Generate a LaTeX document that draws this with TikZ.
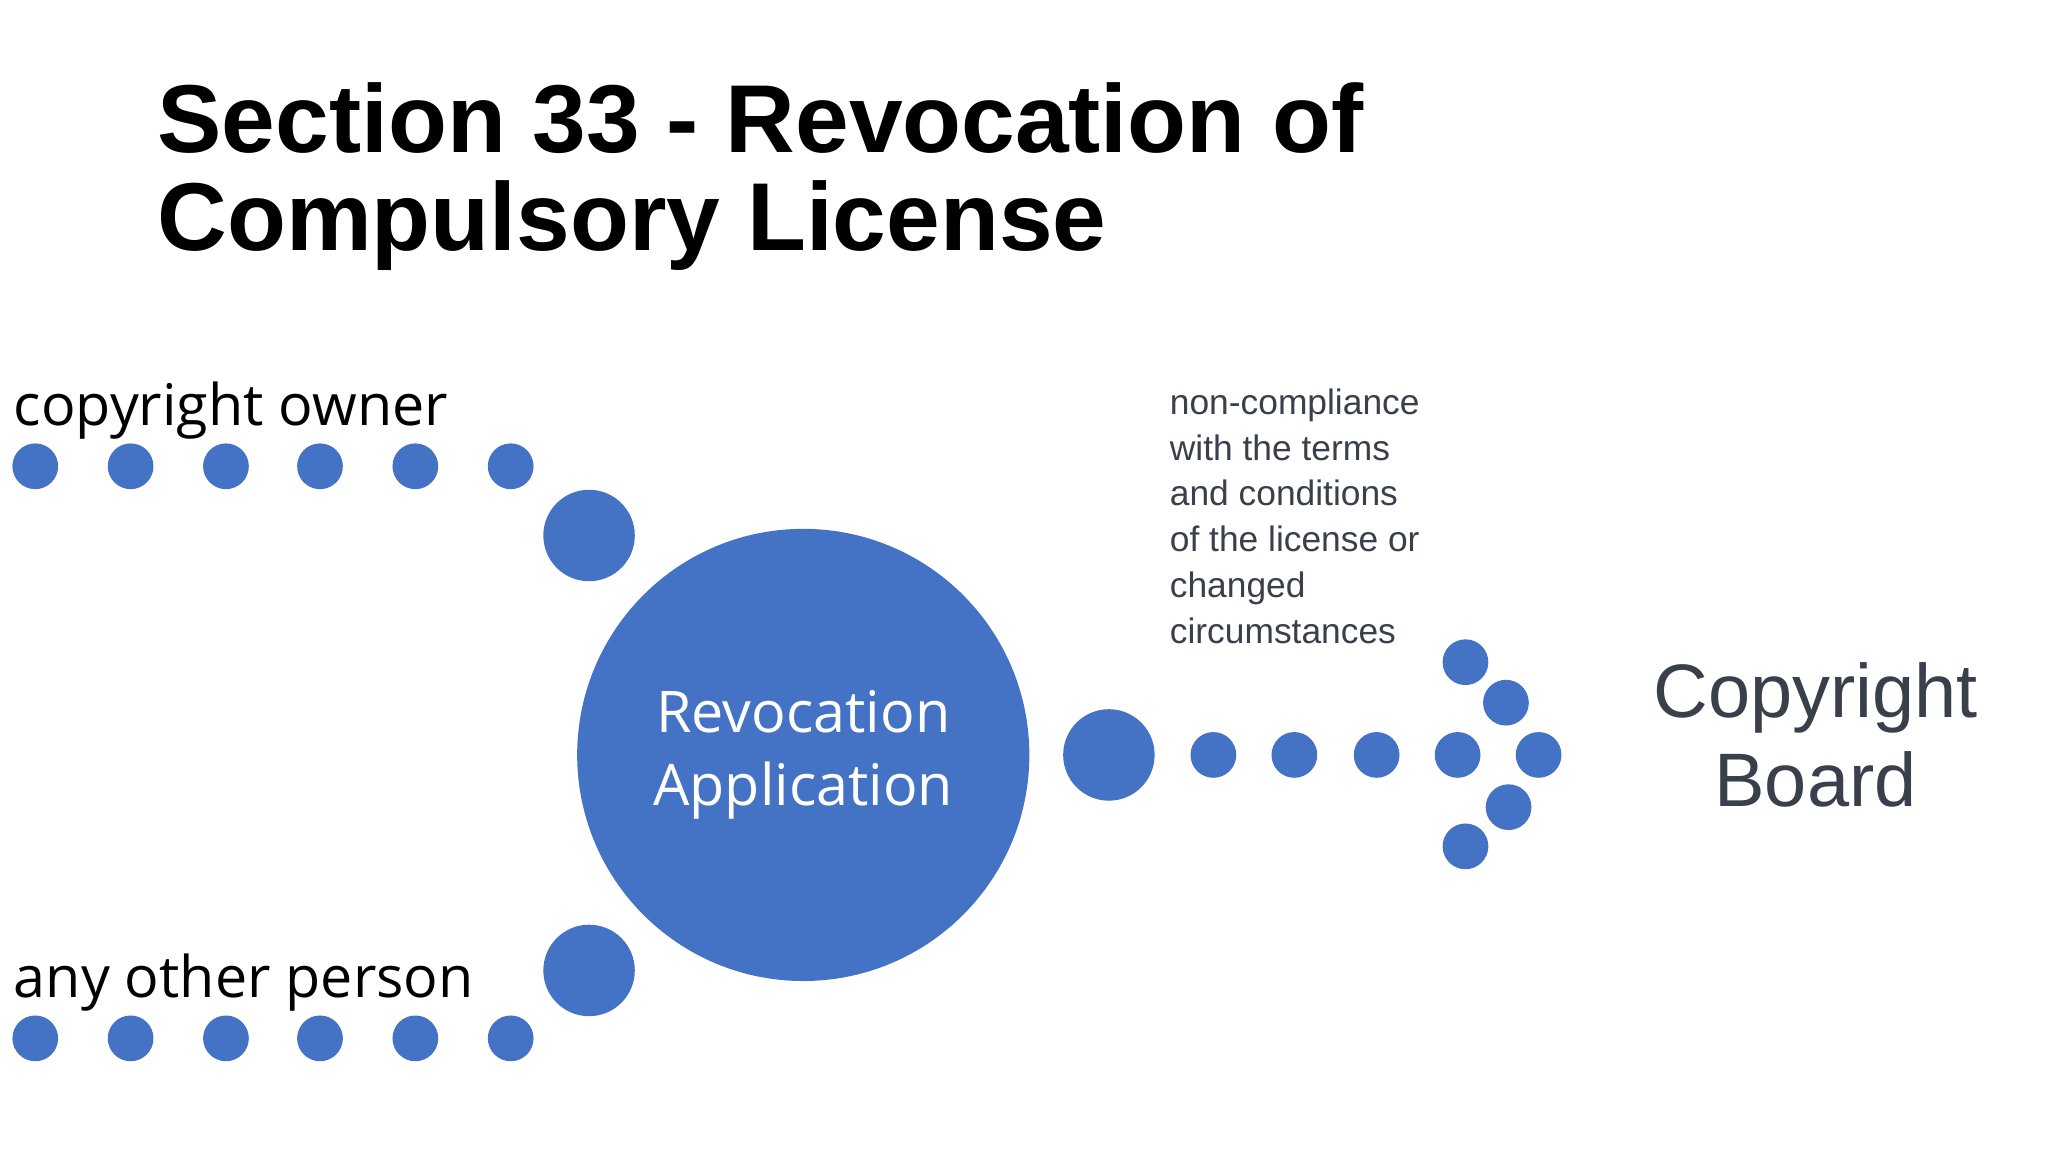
\documentclass[tikz,border=0pt]{standalone}
\usepackage{fontspec}
\setmainfont{Liberation Sans}
\newfontfamily\osans{Open Sans}
\definecolor{blu}{HTML}{4472C4}
\definecolor{txt}{HTML}{3A3F4C}
\begin{document}
\begin{tikzpicture}[x=0.01cm,y=-0.01cm,
  sdot/.style={circle,fill=blu,minimum size=34\pgflinewidth,inner sep=0,draw=none},
  dot/.style={circle,fill=blu,inner sep=0,minimum size=0.35cm},
  bdot/.style={circle,fill=blu,inner sep=0,minimum size=0.70cm},
  lab/.style={font=\osans\fontsize{12.5pt}{14pt}\selectfont,anchor=base west,inner sep=0}]
\useasboundingbox (0,0) rectangle (1568,882);
\node[anchor=base west,inner sep=0,font=\bfseries\fontsize{21pt}{21pt}\selectfont] (t1) at (120,117) {Section 33 - Revocation of};
\node[anchor=base west,inner sep=0,font=\bfseries\fontsize{21pt}{21pt}\selectfont] (t2) at (120,192) {Compulsory License};
\node[lab] (own) at (10,326) {copyright owner};
\node[lab] (oth) at (10,764) {any other person};
\foreach \x [count=\i] in {27,100,173,245,318,391}{
  \node[dot] (a\i) at (\x,357) {};
  \node[dot] (b\i) at (\x,795) {};
}
\node[bdot] (ta) at (451,410) {};
\node[bdot] (tb) at (451,743) {};
\node[circle,fill=blu,inner sep=0,minimum size=3.46cm,text=white,align=center,
  font=\osans\fontsize{12.5pt}{16pt}\selectfont] (c) at (615,578) {Revocation\\Application};
\node[bdot] (r0) at (849,578) {};
\foreach \x [count=\i] in {929,991,1054,1116,1178}{\node[dot] (r\i) at (\x,578) {};}
\node[dot] (h1) at (1122,507) {};
\node[dot] (h2) at (1153,538) {};
\node[dot] (h3) at (1155,618) {};
\node[dot] (h4) at (1122,648) {};
\node[anchor=north west,inner sep=0,align=left,text=txt,
  font=\fontsize{7.7pt}{9.96pt}\selectfont] (d) at (895,297)
  {non-compliance\\with the terms\\and conditions\\of the license or\\changed\\circumstances};
\node[align=center,text=txt,inner sep=0,font=\fontsize{16.5pt}{19.4pt}\selectfont] (cb) at (1390,563) {Copyright\\Board};
\end{tikzpicture}
\end{document}
